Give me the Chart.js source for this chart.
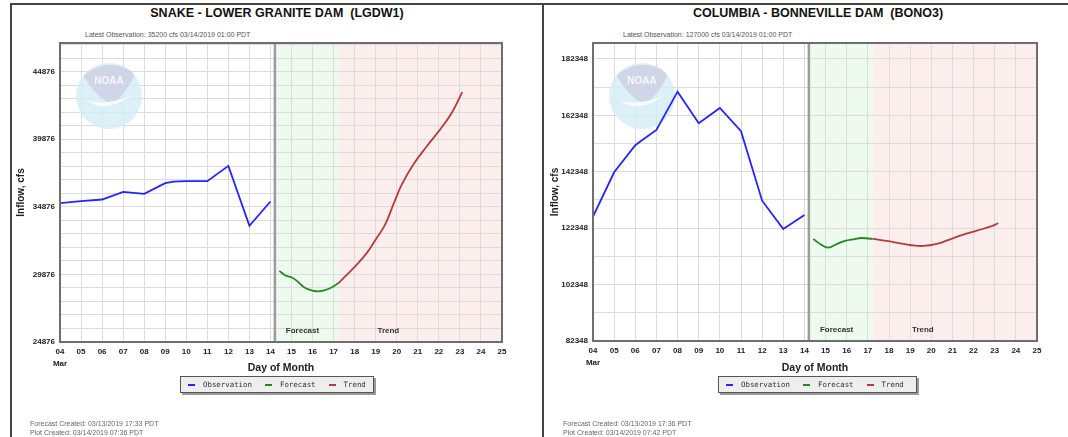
<!DOCTYPE html>
<html>
<head>
<meta charset="utf-8">
<script src="https://cdn.jsdelivr.net/npm/chart.js@4/dist/chart.umd.min.js"></script>
<style>
  body { margin: 0; background: #fff; width: 1068px; height: 437px; overflow: hidden; position: relative; font-family: "Liberation Sans", Arial, sans-serif; }
  .abs { position: absolute; }
  .title { font-weight: bold; font-size: 12.5px; color: #111; white-space: pre; transform: translateX(-50%); top: 6px; }
  .sub { font-size: 7px; color: #555; top: 31px; white-space: pre; }
  .xtitle { font-weight: bold; font-size: 10.5px; color: #222; transform: translateX(-50%); top: 361px; }
  .legend { background: #eeeeee; border: 1px solid #555; box-shadow: 2px 2px 0 #9a9a9a; height: 17px; top: 376px; box-sizing: border-box;
            display: flex; align-items: center; padding-left: 7px; font-family: "DejaVu Sans Mono", monospace; font-size: 7.4px; color: #333; }
  .legend .dash { display: inline-block; width: 7px; height: 2px; margin-right: 8px; }
  .legend .item { display: flex; align-items: center; margin-right: 13px; }
  .foot { font-size: 7px; color: #666; line-height: 9px; top: 419px; white-space: pre; }
  .rule { background: #444; }
</style>
</head>
<body>
<div class="abs rule" style="left:10px;top:3px;width:1058px;height:2px"></div>
<div class="abs rule" style="left:10px;top:3px;width:2px;height:434px"></div>
<div class="abs rule" style="left:542px;top:3px;width:2px;height:434px"></div>

<div class="abs title" style="left:277px">SNAKE - LOWER GRANITE DAM  (LGDW1)</div>
<div class="abs sub" style="left:85px">Latest Observation: 35200 cfs 03/14/2019 01:00 PDT</div>
<canvas id="chartSnake" class="abs" style="left:11px;top:5px" width="529" height="432"></canvas>
<div class="abs xtitle" style="left:281px">Day of Month</div>
<div id="legendSnake" class="abs legend" style="left:180px;width:194px"></div>
<div class="abs foot" style="left:30px">Forecast Created: 03/13/2019 17:33 PDT
Plot Created: 03/14/2019 07:36 PDT</div>

<div class="abs title" style="left:818px">COLUMBIA - BONNEVILLE DAM  (BONO3)</div>
<div class="abs sub" style="left:623px">Latest Observation: 127000 cfs 03/14/2019 01:00 PDT</div>
<canvas id="chartBono" class="abs" style="left:545px;top:5px" width="523" height="432"></canvas>
<div class="abs xtitle" style="left:815px">Day of Month</div>
<div id="legendBono" class="abs legend" style="left:718px;width:199px"></div>
<div class="abs foot" style="left:563px">Forecast Created: 03/13/2019 17:36 PDT
Plot Created: 03/14/2019 07:42 PDT</div>

<script>
// x axis: day of month (March 2019)
const dayTicks = [4, 5, 6, 7, 8, 9, 10, 11, 12, 13, 14, 15, 16, 17, 18, 19, 20, 21, 22, 23, 24, 25];
const seriesNames = ['Observation', 'Forecast', 'Trend'];
const seriesColors = ['#2424ff', '#1f8a1f', '#b43c3c'];

// Snake - Lower Granite Dam (LGDW1), inflow cfs
const snakeObsDays = [4, 5, 6, 7, 8, 9, 9.4, 10, 11, 12, 13, 14];
const snakeObsFlow = [35150, 35300, 35420, 35990, 35840, 36630, 36740, 36780, 36780, 37910, 33470, 35270];
const snakeFcstDays = [14.42, 14.69, 14.99, 15.24, 15.56, 15.88, 16.19, 16.51, 16.83, 17.22];
const snakeFcstFlow = [30140, 29820, 29670, 29420, 28970, 28730, 28630, 28680, 28850, 29220];
const snakeTrendDays = [17.22, 17.62, 18.09, 18.57, 19.04, 19.44, 19.83, 20.23, 20.78, 21.42, 22.05, 22.61, 23.11];
const snakeTrendFlow = [29220, 29840, 30580, 31450, 32560, 33540, 35020, 36500, 37990, 39340, 40580, 41820, 43370];
const snakeYLabels = [24876, 29876, 34876, 39876, 44876];

// Columbia - Bonneville Dam (BONO3), inflow cfs
const bonoObsDays = [4, 5, 6, 6.3, 7, 8, 9, 10, 11, 12, 13, 14];
const bonoObsFlow = [126430, 142170, 151740, 153400, 157170, 170750, 159540, 164970, 156710, 132100, 122060, 127030];
const bonoFcstDays = [14.42, 14.74, 15.13, 15.53, 15.92, 16.31, 16.71, 17.23];
const bonoFcstFlow = [118520, 116740, 115430, 116740, 117810, 118400, 118870, 118520];
const bonoTrendDays = [17.23, 17.89, 18.52, 19.0, 19.62, 20.26, 20.89, 21.52, 22.15, 22.78, 23.17];
const bonoTrendFlow = [118520, 117810, 116990, 116390, 116040, 116740, 118400, 120040, 121460, 122880, 124080];
const bonoYLabels = [82348, 102348, 122348, 142348, 162348, 182348];

const toXY = (xs, ys) => xs.map((x, i) => ({ x: x, y: ys[i] }));

const drawLogo = (ctx, cx, cy, r) => {
    ctx.save();
    ctx.globalAlpha = 0.8;
    ctx.beginPath();
    ctx.arc(cx, cy, r, 0, Math.PI * 2);
    ctx.fillStyle = '#d3ecf6';
    ctx.fill();
    ctx.clip();
    // gray gull top
    ctx.beginPath();
    ctx.moveTo(cx - 0.78 * r, cy - 0.62 * r);
    ctx.quadraticCurveTo(cx, cy - 1.25 * r, cx + 0.8 * r, cy - 0.68 * r);
    ctx.quadraticCurveTo(cx + 0.55 * r, cy - 0.1 * r, cx + 0.1 * r, cy + 0.25 * r);
    ctx.quadraticCurveTo(cx - 0.35 * r, cy + 0.1 * r, cx - 0.78 * r, cy - 0.62 * r);
    ctx.fillStyle = '#cdd0e4';
    ctx.fill();
    // white wing
    ctx.beginPath();
    ctx.moveTo(cx - 0.65 * r, cy + 0.15 * r);
    ctx.quadraticCurveTo(cx - 0.1 * r, cy + 0.55 * r, cx + 0.75 * r, cy - 0.05 * r);
    ctx.quadraticCurveTo(cx + 0.05 * r, cy + 0.3 * r, cx - 0.65 * r, cy + 0.15 * r);
    ctx.fillStyle = '#ffffff';
    ctx.fill();
    ctx.fillStyle = '#ffffff';
    ctx.font = 'bold 10px "Liberation Sans", Arial, sans-serif';
    ctx.textAlign = 'center';
    ctx.textBaseline = 'middle';
    ctx.fillText('NOAA', cx, cy - 0.45 * r);
    ctx.restore();
}

// bands, "now" line, logo, plot frame
const panelDecor = {
    id: 'panelDecor',
    beforeDraw: (chart) => {
        const { ctx, chartArea: a, scales: { x } } = chart;
        const p = chart.options.plugins.panelDecor;
        ctx.save();
        ctx.fillStyle = '#eefaee';
        ctx.fillRect(x.getPixelForValue(p.nowDay), a.top, x.getPixelForValue(p.trendStart) - x.getPixelForValue(p.nowDay), a.bottom - a.top);
        ctx.fillStyle = '#fdeeee';
        ctx.fillRect(x.getPixelForValue(p.trendStart), a.top, a.right - x.getPixelForValue(p.trendStart), a.bottom - a.top);
        ctx.restore();
    },
    beforeDatasetsDraw: (chart) => {
        const { ctx, chartArea: a, scales: { x } } = chart;
        const p = chart.options.plugins.panelDecor;
        drawLogo(ctx, a.left + 49, a.top + 53, 33);
        ctx.save();
        ctx.strokeStyle = '#9c9c9c';
        ctx.lineWidth = 2.5;
        const nx = x.getPixelForValue(p.nowDay);
        ctx.beginPath();
        ctx.moveTo(nx, a.top);
        ctx.lineTo(nx, a.bottom);
        ctx.stroke();
        ctx.fillStyle = '#333';
        ctx.font = 'bold 8px "Liberation Sans", Arial, sans-serif';
        ctx.textAlign = 'center';
        ctx.textBaseline = 'middle';
        ctx.fillText('Forecast', x.getPixelForValue(15.52), a.bottom - 11);
        ctx.fillText('Trend', x.getPixelForValue(19.6), a.bottom - 11);
        ctx.restore();
    },
    afterDraw: (chart) => {
        const { ctx, chartArea: a } = chart;
        ctx.save();
        ctx.strokeStyle = '#6e6e6e';
        ctx.lineWidth = 2;
        ctx.strokeRect(a.left, a.top, a.right - a.left, a.bottom - a.top);
        ctx.restore();
    }
}

const makeChart = (id, p) => {
    let ctx = document.getElementById(id).getContext('2d');
    return new Chart(ctx, {
        type: 'line',
        data: {
            datasets: [
                { label: seriesNames[0], data: toXY(p.obsDays, p.obsFlow), borderColor: seriesColors[0], tension: 0 },
                { label: seriesNames[1], data: toXY(p.fcstDays, p.fcstFlow), borderColor: seriesColors[1], tension: 0.4 },
                { label: seriesNames[2], data: toXY(p.trendDays, p.trendFlow), borderColor: seriesColors[2], tension: 0.4 }
            ]
        },
        options: {
            responsive: false,
            animation: false,
            devicePixelRatio: 1,
            layout: { padding: { top: 38, right: p.padRight, left: 0, bottom: 0 } },
            elements: { point: { radius: 0 }, line: { borderWidth: 1.8 } },
            plugins: {
                legend: { display: false },
                tooltip: { enabled: false },
                panelDecor: { nowDay: 14.21, trendStart: 17.25 }
            },
            scales: {
                x: {
                    type: 'linear', min: dayTicks[0], max: dayTicks[dayTicks.length - 1],
                    afterBuildTicks: (s) => { s.ticks = dayTicks.map(v => ({ value: v })) },
                    afterFit: (s) => { s.height = p.xHeight },
                    border: { display: false },
                    grid: { color: '#dcdcdc', drawTicks: false },
                    ticks: {
                        padding: 4, color: '#222', maxRotation: 0, autoSkip: false,
                        font: { family: '"Liberation Sans", Arial, sans-serif', size: 8, weight: 'bold', lineHeight: 1.5 },
                        callback: (v) => v === dayTicks[0] ? ['04', 'Mar'] : String(v).padStart(2, '0')
                    }
                },
                y: {
                    min: p.yLabels[0], max: p.yMax,
                    afterBuildTicks: (s) => {
                        let t = [];
                        for (let v = p.yLabels[0]; v <= p.yMax; v += p.yGridStep) t.push({ value: v });
                        s.ticks = t;
                    },
                    afterFit: (s) => { s.width = p.yWidth },
                    border: { display: false },
                    grid: { color: '#dcdcdc', drawTicks: false },
                    title: {
                        display: true, text: 'Inflow, cfs', color: '#222', padding: { top: 4, bottom: 2 },
                        font: { family: '"Liberation Sans", Arial, sans-serif', size: 10, weight: 'bold' }
                    },
                    ticks: {
                        padding: 5, color: '#222', autoSkip: false,
                        font: { family: '"Liberation Sans", Arial, sans-serif', size: 8, weight: 'bold' },
                        callback: (v) => p.yLabels.includes(v) ? String(v) : ''
                    }
                }
            }
        },
        plugins: [panelDecor]
    });
}

const fillLegend = (id) => {
    let html = '';
    for (let i = 0; i < seriesNames.length; i++) {
        html += `<span class="item"><span class="dash" style="background:${seriesColors[i]}"></span>${seriesNames[i]}</span>`;
    }
    document.getElementById(id).innerHTML = html;
}

makeChart('chartSnake', {
    obsDays: snakeObsDays, obsFlow: snakeObsFlow,
    fcstDays: snakeFcstDays, fcstFlow: snakeFcstFlow,
    trendDays: snakeTrendDays, trendFlow: snakeTrendFlow,
    yLabels: snakeYLabels, yMax: 47000, yGridStep: 1000,
    padRight: 38, xHeight: 95, yWidth: 49
});
makeChart('chartBono', {
    obsDays: bonoObsDays, obsFlow: bonoObsFlow,
    fcstDays: bonoFcstDays, fcstFlow: bonoFcstFlow,
    trendDays: bonoTrendDays, trendFlow: bonoTrendFlow,
    yLabels: bonoYLabels, yMax: 188000, yGridStep: 10000,
    padRight: 31, xHeight: 96, yWidth: 48
});
fillLegend('legendSnake');
fillLegend('legendBono');
</script>
</body>
</html>
